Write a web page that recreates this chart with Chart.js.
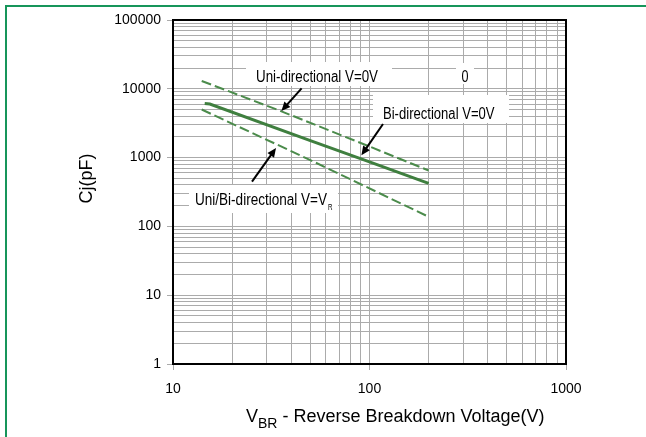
<!DOCTYPE html>
<html><head><meta charset="utf-8">
<script src="https://cdn.jsdelivr.net/npm/chart.js@4/dist/chart.umd.min.js"></script>
<style>html,body{margin:0;padding:0;background:#fff;}#wrap{width:646px;height:437px;position:relative;}</style>
</head><body><div id="wrap"><canvas id="c" width="646" height="437"></canvas></div>
<script>
// ---- data ----
const xTickValues = [10,20,30,40,50,60,70,80,90,100,200,300,400,500,600,700,800,900,1000];
const yTickValues = [1,2,3,4,5,6,7,8,9,10,20,30,40,50,60,70,80,90,100,200,300,400,500,600,700,800,900,
  1000,2000,3000,4000,5000,6000,7000,8000,9000,10000,20000,30000,40000,50000,60000,70000,80000,90000,100000];
const uniV0X = [14, 35, 100, 200];
const uniV0Y = [13000, 4800, 1450, 650];
const biV0X = [14.5, 15.4, 50, 100, 200];
const biV0Y = [6100, 6000, 1770, 865, 423];
const vrX = [14, 50, 200];
const vrY = [5000, 920, 138];
const labelUni = 'Uni-directional V=0V';
const labelBi = 'Bi-directional V=0V';
const labelVr = 'Uni/Bi-directional V=V';
const labelVrSub = 'R';
const labelZero = '0';
const xTitleMain = 'V';
const xTitleSub = 'BR';
const xTitleRest = ' - Reverse Breakdown Voltage(V)';
const yTitle = 'Cj(pF)';

const SANS = "'Liberation Sans',Arial,sans-serif";
const GREEN = '#4b8b4b';
const GRID = '#ababab';

function isDecade(v){ const l = Math.log10(v); return Math.abs(l - Math.round(l)) < 1e-9; }
function pts(xs, ys){ return xs.map((x,i)=>({x:x, y:ys[i]})); }

function arrow(ctx, x1, y1, x2, y2){
  const a = Math.atan2(y2-y1, x2-x1);
  const L = 9, W = 4;
  ctx.beginPath(); ctx.moveTo(x1,y1);
  ctx.lineTo(x2 - L*0.8*Math.cos(a), y2 - L*0.8*Math.sin(a)); ctx.stroke();
  ctx.beginPath(); ctx.moveTo(x2,y2);
  ctx.lineTo(x2 - L*Math.cos(a) + W*Math.sin(a), y2 - L*Math.sin(a) - W*Math.cos(a));
  ctx.lineTo(x2 - L*Math.cos(a) - W*Math.sin(a), y2 - L*Math.sin(a) + W*Math.cos(a));
  ctx.closePath(); ctx.fill();
}
// draw text horizontally condensed so that it spans the given width
function fitText(ctx, text, left, baseline, width){
  const w = ctx.measureText(text).width;
  const k = width / w;
  ctx.save(); ctx.translate(left, baseline); ctx.scale(k, 1);
  ctx.fillText(text, 0, 0); ctx.restore();
}

const decor = {
  id: 'decor',
  beforeDatasetsDraw(chart){
    const ctx = chart.ctx;
    ctx.save();
    ctx.fillStyle = '#fff';
    ctx.fillRect(246, 62, 146, 24);
    ctx.fillRect(373, 95, 136, 28);
    ctx.fillRect(189, 185, 149, 28);
    ctx.fillRect(456, 63, 18, 21);
    ctx.fillStyle = '#000';
    ctx.font = "16px " + SANS;
    ctx.textBaseline = 'alphabetic';
    ctx.textAlign = 'left';
    fitText(ctx, labelUni, 256, 81.5, 122);
    fitText(ctx, labelBi, 383, 118.5, 111.5);
    fitText(ctx, labelZero, 461.5, 81.5, 7);
    fitText(ctx, labelVr, 195, 205, 132);
    ctx.font = "9px " + SANS;
    fitText(ctx, labelVrSub, 328, 210, 4.5);
    ctx.restore();
  },
  afterDatasetsDraw(chart){
    const ctx = chart.ctx, a = chart.chartArea;
    ctx.save();
    ctx.strokeStyle = '#000'; ctx.lineWidth = 2;
    ctx.strokeRect(a.left, a.top, a.right - a.left, a.bottom - a.top);
    ctx.lineWidth = 2; ctx.fillStyle = '#000';
    arrow(ctx, 301.6, 88.3, 281.4, 111);
    arrow(ctx, 383, 124, 361.4, 155.3);
    arrow(ctx, 252, 181.7, 276, 148);
    // titles
    ctx.fillStyle = '#000';
    ctx.textBaseline = 'alphabetic'; ctx.textAlign = 'left';
    let x = 246;
    ctx.font = "18px " + SANS;
    ctx.fillText(xTitleMain, x, 421.5); x += ctx.measureText(xTitleMain).width;
    ctx.font = "14px " + SANS;
    ctx.fillText(xTitleSub, x, 428); x += ctx.measureText(xTitleSub).width;
    ctx.font = "18px " + SANS;
    ctx.fillText(xTitleRest, x, 421.5);
    ctx.save();
    ctx.translate(87, 178.5); ctx.rotate(-Math.PI/2);
    ctx.textAlign = 'center'; ctx.textBaseline = 'middle';
    ctx.fillText(yTitle, 0, 0);
    ctx.restore();
    // outer green frame
    ctx.strokeStyle = '#16955a'; ctx.lineWidth = 2;
    ctx.beginPath(); ctx.moveTo(6, 437); ctx.lineTo(6, 6); ctx.lineTo(646, 6); ctx.stroke();
    ctx.restore();
  }
};

new Chart(document.getElementById('c'), {
  type: 'line',
  data: {
    datasets: [
      { label: labelUni, data: pts(uniV0X, uniV0Y), borderColor: GREEN, borderWidth: 2, borderDash: [10,4], pointRadius: 0, fill: false, tension: 0 },
      { label: labelBi, data: pts(biV0X, biV0Y), borderColor: '#3f7f3f', borderWidth: 3, pointRadius: 0, fill: false, tension: 0 },
      { label: labelVr + labelVrSub, data: pts(vrX, vrY), borderColor: GREEN, borderWidth: 2, borderDash: [10,4], pointRadius: 0, fill: false, tension: 0 }
    ]
  },
  options: {
    responsive: false, animation: false, devicePixelRatio: 1,
    layout: { padding: { left: 0, right: 80, top: 20, bottom: 0 } },
    plugins: { legend: { display: false }, tooltip: { enabled: false } },
    scales: {
      x: {
        type: 'logarithmic', position: 'bottom', min: 10, max: 1000,
        afterBuildTicks: s => { s.ticks = xTickValues.map(v => ({ value: v, major: isDecade(v) })); },
        afterFit: s => { s.height = 73; },
        ticks: { autoSkip: false, maxRotation: 0, padding: 11, color: '#000', font: { family: SANS, size: 14 },
          callback: v => isDecade(v) ? String(Math.round(v)) : '' },
        grid: { color: GRID, lineWidth: 1, tickLength: 6, tickColor: c => (c.tick && isDecade(c.tick.value)) ? GRID : 'rgba(0,0,0,0)' },
        border: { display: true, color: '#000', width: 2 }
      },
      y: {
        type: 'logarithmic', position: 'left', min: 1, max: 100000,
        afterBuildTicks: s => { s.ticks = yTickValues.map(v => ({ value: v, major: isDecade(v) })); },
        afterFit: s => { s.width = 173; },
        ticks: { autoSkip: false, padding: 6, color: '#000', font: { family: SANS, size: 14 },
          callback: v => isDecade(v) ? String(Math.round(v)) : '' },
        grid: { color: GRID, lineWidth: 1, tickLength: 6, tickColor: c => (c.tick && isDecade(c.tick.value)) ? GRID : 'rgba(0,0,0,0)' },
        border: { display: true, color: '#000', width: 2 }
      }
    }
  },
  plugins: [decor]
});
</script></body></html>
